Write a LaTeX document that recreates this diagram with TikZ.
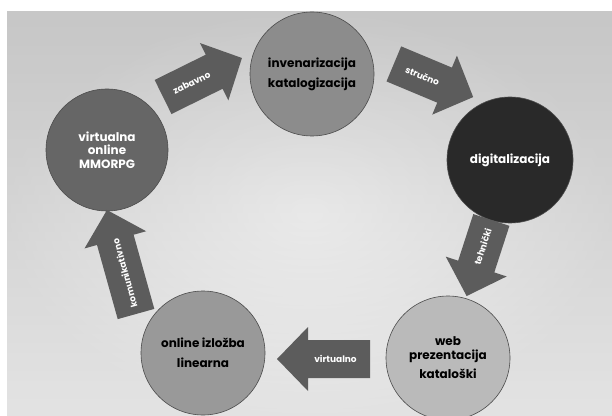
\documentclass[tikz,border=0pt]{standalone}
\usepackage{fontspec}
\setmainfont{Poppins}
\begin{document}
\begin{tikzpicture}[x=1pt,y=1pt,
  circ/.style={circle, draw=black!70, line width=0.6pt, inner sep=0pt, align=center},
  cfont/.style={font=\bfseries\fontsize{12}{#1}\selectfont},
  arrowfill/.style={fill=black!64},
  arrowtext/.style={text=white, font=\bfseries\fontsize{9}{10}\selectfont, inner sep=1pt}]
\newcommand\blockarrow[6]{%
  \begin{scope}[shift={#2}, rotate=#3]
    \fill[arrowfill] ({-#4/2},-19) -- ({#4/2-31},-19) -- ({#4/2-31},-32) -- ({#4/2},0) -- ({#4/2-31},32) -- ({#4/2-31},19) -- ({-#4/2},19) -- cycle;
    \node[arrowtext, rotate=#5] (#1) at (-12,0) {#6};
  \end{scope}}
\useasboundingbox (0,0) rectangle (612,415);
\fill[white] (0,0) rectangle (612,415);
\shade[top color=black!22, bottom color=black!5] (7,0) rectangle (612,403);
\shade[inner color=white, outer color=black!22, opacity=0.35] (7,0) rectangle (612,403);
% circles
\node[circ, cfont=20, fill=black!45, minimum size=124pt, text=black] (inv) at (312,341)
  {invenarizacija\\katalogizacija};
\node[circ, cfont=14, fill=black!84, minimum size=126pt, text=white] (dig) at (510,255)
  {digitalizacija};
\node[circ, cfont=14, fill=black!27, minimum size=124pt, text=black] (web) at (448,57)
  {web\\prezentacija\\[5pt]katalo\v{s}ki};
\node[circ, cfont=20, fill=black!40, minimum size=124pt, text=black] (onl) at (203,62)
  {online izlo\v{z}ba\\linearna};
\node[circ, cfont=13.5, fill=black!60, minimum size=122pt, text=white] (vir) at (107,265)
  {virtualna\\online\\MMORPG};
% block arrows
\blockarrow{a1}{(202.5,337.5)}{26.3}{88}{26.3}{zabavno}
\blockarrow{a2}{(433.5,334.5)}{-22.7}{86}{-22.7}{stru\v{c}no}
\blockarrow{a3}{(479,157)}{252}{80}{72}{tehni\v{c}ki}
\blockarrow{a4}{(323.5,56)}{180}{93}{0}{virtualno}
\blockarrow{a5}{(121.5,153)}{105.6}{108}{105.6}{komunikativno}
\end{tikzpicture}
\end{document}
